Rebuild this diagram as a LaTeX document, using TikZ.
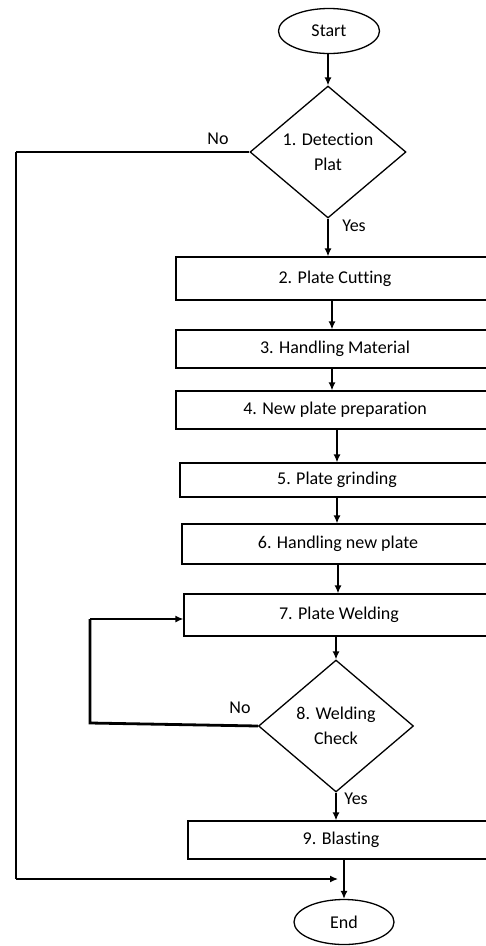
\documentclass[tikz,border=0pt]{standalone}
\usepackage{fontspec}
\setmainfont{Carlito}[Ligatures=NoCommon]
\usetikzlibrary{shapes.geometric,arrows.meta}
\begin{document}
\begin{tikzpicture}[x=1pt,y=-1pt,
  every node/.style={font=\fontsize{18}{25}\selectfont},
  proc/.style={draw, line width=1.3pt, rectangle, inner sep=0pt},
  dec/.style={draw, line width=1.3pt, diamond, inner sep=0pt, align=center},
  term/.style={draw, line width=1.3pt, ellipse, inner sep=0pt},
  conn/.style={line width=1.3pt},
  arr/.style={line width=1.3pt, -{Latex[length=8pt,width=7pt]}},
  heavy/.style={line width=2.8pt, line join=miter},
  lbl/.style={inner sep=0pt}]
\useasboundingbox (0,0) rectangle (486,946);
\clip (0,0) rectangle (486,946);
\fill[white] (0,0) rectangle (486,946);

\node[term, minimum width=101pt, minimum height=45pt] (start) at (329,31) {Start};
\node[dec, minimum width=156pt, minimum height=132pt] (d1) at (328,152) {1. Detection\\Plat};
\node[proc, minimum width=318pt, minimum height=43pt] (b2) at (335,278.5) {2. Plate Cutting};
\node[proc, minimum width=318pt, minimum height=38pt] (b3) at (335,349) {3. Handling Material};
\node[proc, minimum width=318pt, minimum height=38pt] (b4) at (335,410) {4. New plate preparation};
\node[proc, minimum width=314pt, minimum height=34pt] (b5) at (337,480) {5. Plate grinding};
\node[proc, minimum width=312pt, minimum height=40pt] (b6) at (338,544) {6. Handling new plate};
\node[proc, minimum width=310pt, minimum height=42pt] (b7) at (339,615) {7. Plate Welding};
\node[dec, minimum width=155pt, minimum height=132pt] (d8) at (336,726) {8. Welding\\Check};
\node[proc, minimum width=306pt, minimum height=38pt] (b9) at (341,840) {9. Blasting};
\node[term, minimum width=100pt, minimum height=45pt] (end) at (344,922) {End};

\draw[arr] (start.south -| d1.north) -- (d1.north);
\draw[arr] (d1.south) -- (d1.south |- b2.north);
\draw[arr] ([xshift=-3pt]b2.south) -- ([xshift=-3pt]b3.north);
\draw[arr] ([xshift=-3pt]b3.south) -- ([xshift=-3pt]b4.north);
\draw[arr] (b4.south -| b5.north) -- (b5.north);
\draw[arr] (b5.south) -- (b5.south |- b6.north);
\draw[arr] (b6.south) -- (b6.south |- b7.north);
\draw[arr] (b7.south -| d8.north) -- (d8.north);
\draw[arr] (d8.south) -- (d8.south |- b9.north);
\draw[arr] (b9.south -| end.north) -- (end.north);

\coordinate (n1) at (16,152);
\coordinate (n2) at (16,879);
\coordinate (n3) at (338,879);
\draw[conn] (d1.west) -- (n1);
\draw[heavy] (n1) -- (n2);
\draw[arr] (n2) -- (n3);

\coordinate (m1) at (90,723);
\coordinate (m2) at (90,619);
\draw[heavy] (d8.west) -- (m1) -- (m2);
\draw[arr] (m2) -- (m2 -| b7.west);

\node[lbl] (no1) at (218,139) {No};
\node[lbl] (yes1) at (354,226) {Yes};
\node[lbl] (no2) at (240,708) {No};
\node[lbl] (yes2) at (356,799) {Yes};
\end{tikzpicture}
\end{document}
